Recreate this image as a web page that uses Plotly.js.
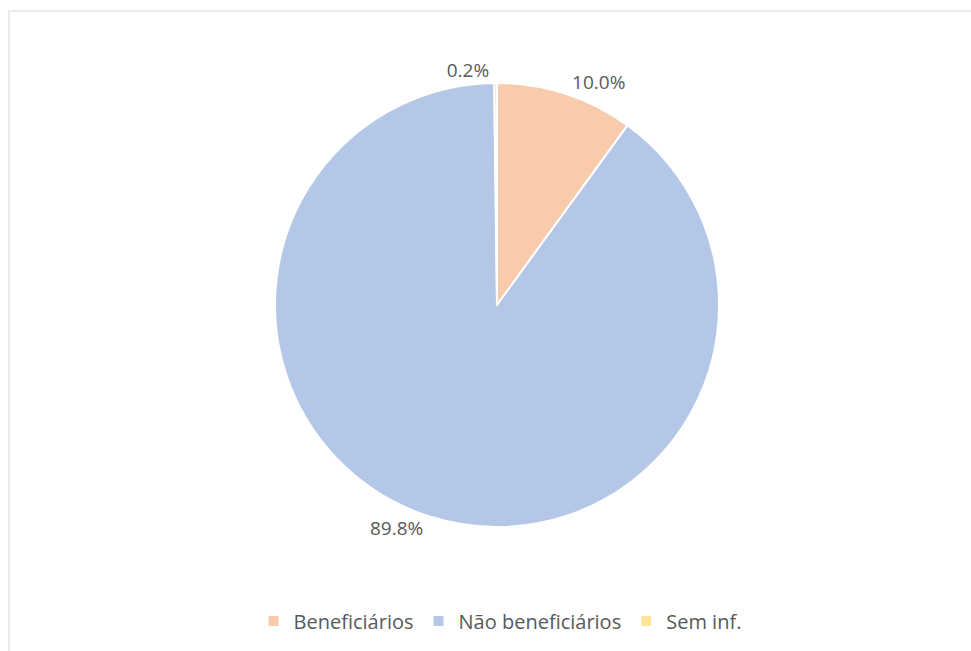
<!DOCTYPE html>
<html>
<head>
<meta charset="utf-8">
<script src="https://cdn.plot.ly/plotly-3.0.1.min.js"></script>
<style>html,body{margin:0;padding:0;background:#fff;}#chart{width:971px;height:651px;}</style>
</head>
<body>
<div id="chart"></div>
<script>
const categories = ["Beneficiários", "Não beneficiários", "Sem inf."];
const values = [10.0, 89.8, 0.2];
const colors = ["#F8CBAD", "#B4C7E7", "#FFE699"];

const trace = {
  type: "pie",
  labels: categories,
  values: values,
  sort: false,
  direction: "clockwise",
  rotation: 0,
  marker: { colors: colors, line: { color: "#ffffff", width: 2 } },
  textposition: "outside",
  texttemplate: "%{percent:.1%}",
  textfont: { family: "'Open Sans', 'Noto Sans', sans-serif", size: 19, color: "#595959" },
  hoverinfo: "label+percent",
  domain: { x: [0.2832, 0.7405], y: [0.1875, 0.8755] }
};

const layout = {
  width: 971, height: 651,
  margin: { l: 0, r: 0, t: 0, b: 0 },
  paper_bgcolor: "#ffffff",
  showlegend: true,
  legend: {
    orientation: "h", x: 0.515, xanchor: "center", y: 0.046, yanchor: "middle",
    font: { family: "'Open Sans', 'Noto Sans', sans-serif", size: 20, color: "#595959" },
    itemwidth: 30
  },
  shapes: [{
    type: "rect", xref: "paper", yref: "paper",
    x0: 9/971, x1: 1.01, y0: -0.01, y1: 1 - 11/651,
    line: { color: "#e4e4e4", width: 1.5 }, fillcolor: "rgba(0,0,0,0)", layer: "below"
  }]
};

Plotly.newPlot("chart", [trace], layout, { displayModeBar: false, staticPlot: true });
</script>
</body>
</html>
